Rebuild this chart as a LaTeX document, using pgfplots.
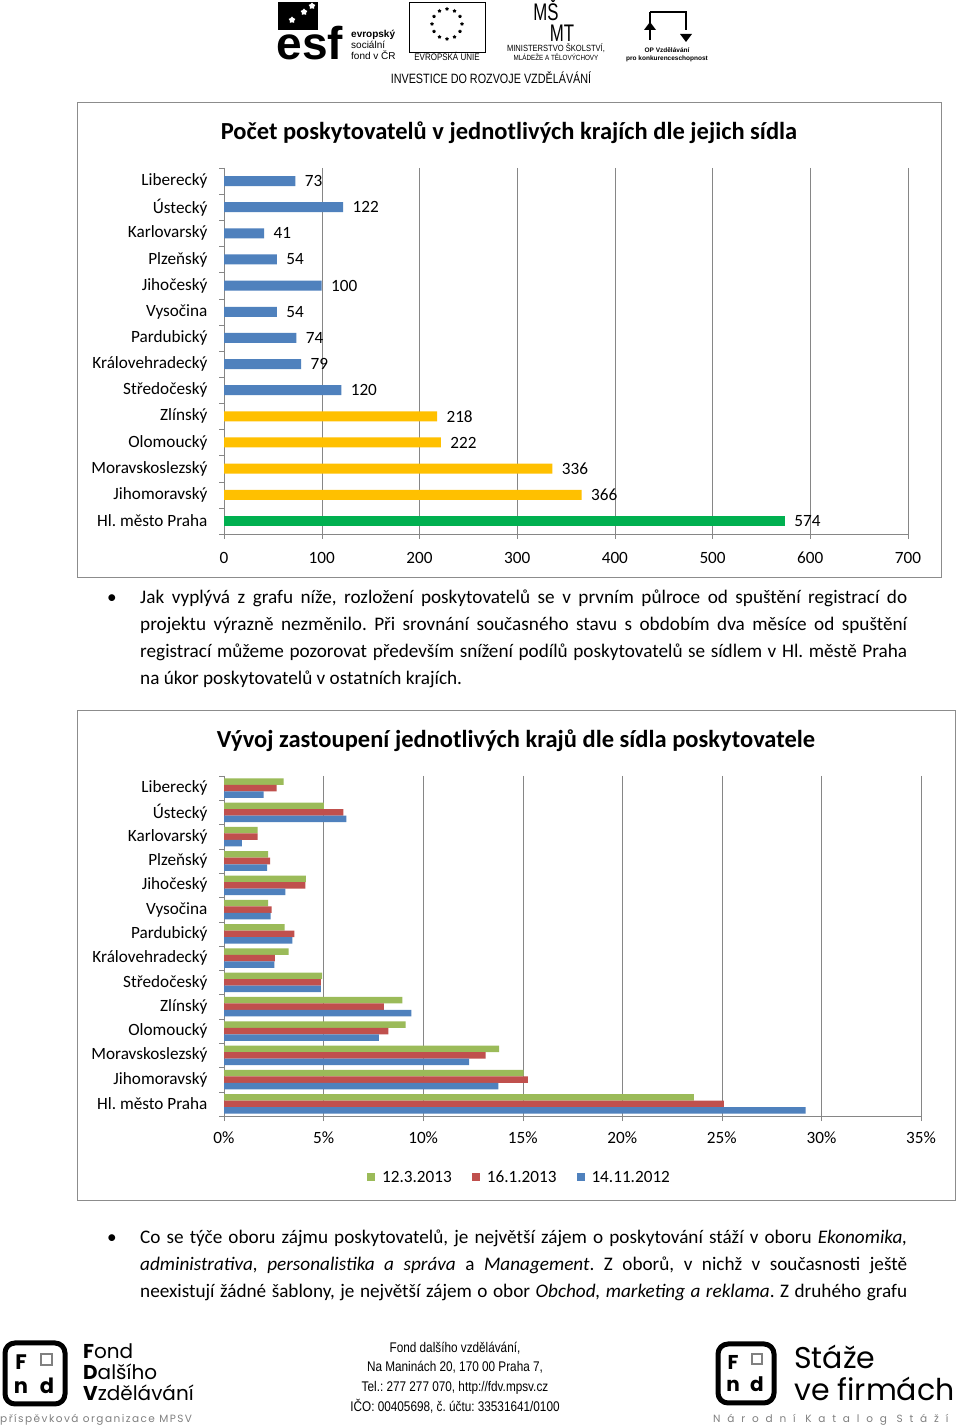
\documentclass[border=0pt]{standalone}
\usepackage{fontspec}
\setmainfont{Carlito}
\newfontfamily\arial{Liberation Sans}
\newfontfamily\geo{Poppins}
\usepackage{pgfplots}
\usetikzlibrary{shapes.geometric}
\pgfplotsset{compat=1.18}
\definecolor{xblue}{HTML}{4F81BD}
\definecolor{xgold}{HTML}{FFC000}
\definecolor{xgreen}{HTML}{00B050}
\definecolor{sgreen}{HTML}{9BBB59}
\definecolor{sred}{HTML}{C0504D}
\definecolor{gridc}{HTML}{868686}
\definecolor{framec}{HTML}{8C8C8C}
\newcommand\fs[1]{\fontsize{#1}{#1}\selectfont}
\newcommand\cond[1]{\scalebox{0.84}[1]{#1}}
\frenchspacing
\begin{document}
\begin{tikzpicture}
\path[use as bounding box] (0pt,0pt) rectangle (960pt,1427pt);
\fill[white] (0pt,0pt) rectangle (960pt,1427pt);
\begin{scope}[x=1pt,y=-1pt,shift={(0pt,1427pt)}]
% ---------- header ----------
\fill[black] (278,2) rectangle (318,30);
\foreach \p in {(292,20),(304,12),(312,6)} \node[star, star points=5, fill=white, minimum size=7pt, inner sep=0] at \p {};
\node[font=\fs{46}\bfseries\arial, inner sep=0, anchor=base] at (310,60) {esf};
\node[font=\fs{10}\bfseries\arial, anchor=base west, inner sep=0] at (351,38) {evropský};
\node[font=\fs{10}\arial, anchor=base west, inner sep=0] at (351,49) {sociální};
\node[font=\fs{10}\arial, anchor=base west, inner sep=0] at (351,60) {fond v ČR};
\draw[line width=0.8pt] (409,2) rectangle (485,52);
\foreach \a in {0,30,...,330} \path (447,24) ++(\a:15) node[star, star points=5, fill=black, minimum size=4pt, inner sep=0] {};
\node[font=\fs{9.5}\arial, anchor=base, inner sep=0] at (447,61) {\cond{EVROPSKÁ UNIE}};
\node[font=\fs{24}\arial, anchor=base, inner sep=0] at (546,21) {\scalebox{0.7}[1]{MŠ}};
\node[font=\fs{24}\arial, anchor=base, inner sep=0] at (562,42) {\scalebox{0.7}[1]{MT}};
\node[font=\fs{9}\arial, anchor=base, inner sep=0] at (556,52) {\cond{MINISTERSTVO ŠKOLSTVÍ,}};
\node[font=\fs{7.5}\arial, anchor=base, inner sep=0] at (556,61) {\cond{MLÁDEŽE A TĚLOVÝCHOVY}};
\draw[line width=1.5pt] (650,12) -- (686,12) -- (686,30);
\draw[line width=1.5pt] (650,12) -- (650,40);
\fill (680,34) -- (692,34) -- (686,42) -- cycle;
\fill (644,30) -- (656,30) -- (650,22) -- cycle;
\node[font=\fs{6.5}\bfseries\arial, anchor=base, inner sep=0] at (667,53) {OP Vzdělávání};
\node[font=\fs{6.5}\bfseries\arial, anchor=base, inner sep=0] at (667,61) {pro konkurenceschopnost};
\node[font=\fs{13.5}\arial, anchor=base, inner sep=0] at (491,84) {\scalebox{0.8}[1]{INVESTICE DO ROZVOJE VZDĚLÁVÁNÍ}};
% ---------- frames and titles ----------
\draw[framec, line width=1pt] (77,103) rectangle (941,578);
\draw[framec, line width=1pt] (77,711) rectangle (955,1201);
\node[font=\fs{24.5}\bfseries] at (509,133) {Počet poskytovatelů v jednotlivých krajích dle jejich sídla};
\node[font=\fs{24.5}\bfseries] at (516,741) {Vývoj zastoupení jednotlivých krajů dle sídla poskytovatele};
% ---------- paragraph 1 ----------
\begin{scope}[every node/.style={anchor=base west, inner sep=0, font=\fs{19.2}}]
\node at (107,604) {•};
\node at (140,604) {\makebox[767pt][s]{Jak vyplývá z~grafu níže, rozložení poskytovatelů se v~prvním půlroce od spuštění registrací do}};
\node at (140,631) {\makebox[767pt][s]{projektu výrazně nezměnilo. Při srovnání současného stavu s obdobím dva měsíce od spuštění}};
\node at (140,658) {\makebox[767pt][s]{registrací můžeme pozorovat především snížení podílů poskytovatelů se sídlem v Hl. městě Praha}};
\node at (140,685) {na úkor poskytovatelů v ostatních krajích.};
% ---------- paragraph 2 ----------
\node at (107,1244) {•};
\node at (140,1244) {\makebox[767pt][s]{Co se týče oboru zájmu poskytovatelů, je největší zájem o poskytování stáží v~oboru \textit{Ekonomika,}}};
\node at (140,1271) {\makebox[767pt][s]{\textit{administrativa, personalistika a správa} a \textit{Management}. Z oborů, v~nichž v~současnosti ještě}};
\node at (140,1298) {\makebox[767pt][s]{neexistují žádné šablony, je největší zájem o obor \textit{Obchod, marketing a reklama}. Z druhého grafu}};
\end{scope}
% ---------- footer ----------
\draw[line width=5pt, rounded corners=10pt] (5,1343) rectangle (65,1404);
\node[font=\fs{21}\bfseries\geo, inner sep=0] at (21,1362) {F};
\draw[line width=2.5pt, gray] (41,1354) rectangle (52,1365);
\node[font=\fs{21}\bfseries\geo, inner sep=0, anchor=base] at (21,1393) {n};
\node[font=\fs{21}\bfseries\geo, inner sep=0, anchor=base] at (47,1393) {d};
\node[font=\fs{20}\geo, anchor=base west, inner sep=0] at (83,1359) {\textbf{F}ond};
\node[font=\fs{20}\geo, anchor=base west, inner sep=0] at (83,1380) {\textbf{D}alšího};
\node[font=\fs{20}\geo, anchor=base west, inner sep=0] at (83,1401) {\textbf{V}zdělávání};
\node[font=\fs{10.5}\geo\addfontfeatures{LetterSpace=14}, text=gray, anchor=base west, inner sep=0] at (0,1422) {příspěvková organizace MPSV};
\node[font=\fs{14}\arial, anchor=base, inner sep=0] at (455,1353) {\cond{Fond dalšího vzdělávání,}};
\node[font=\fs{14}\arial, anchor=base, inner sep=0] at (455,1372) {\cond{Na Maninách 20, 170 00 Praha 7,}};
\node[font=\fs{14}\arial, anchor=base, inner sep=0] at (455,1392) {\cond{Tel.: 277 277 070, http://fdv.mpsv.cz}};
\node[font=\fs{14}\arial, anchor=base, inner sep=0] at (455,1411) {\cond{IČO: 00405698, č. účtu: 33531641/0100}};
\draw[line width=5pt, rounded corners=10pt] (718,1344) rectangle (774,1403);
\node[font=\fs{20}\bfseries\geo, inner sep=0] at (733,1362) {F};
\draw[line width=2.5pt, gray] (752,1354) rectangle (762,1364);
\node[font=\fs{20}\bfseries\geo, inner sep=0, anchor=base] at (733,1392) {n};
\node[font=\fs{20}\bfseries\geo, inner sep=0, anchor=base] at (757,1392) {d};
\node[font=\fs{30}\geo, anchor=base west, inner sep=0] at (794,1369) {Stáže};
\node[font=\fs{30}\geo, anchor=base west, inner sep=0] at (794,1401) {ve firmách};
\node[font=\fs{10.5}\geo\addfontfeatures{LetterSpace=65}, text=gray, anchor=base west, inner sep=0] at (713,1422) {Národní Katalog Stáží};
\end{scope}
% ---------- chart 1 ----------
\begin{axis}[
  at={(224pt,893pt)}, anchor=south west, scale only axis,
  width=684pt, height=366pt,
  xmin=0, xmax=700, ymin=-0.5, ymax=13.5, y dir=reverse,
  xbar, bar width=10pt, bar shift=0pt,
  axis x line*=bottom, axis y line*=left,
  axis line style={gridc, -},
  xtick={0,100,...,700}, minor xtick={0,100,...,700},
  ytick={0,...,13},
  yticklabels={Liberecký,Ústecký,Karlovarský,Plzeňský,Jihočeský,Vysočina,Pardubický,Královehradecký,Středočeský,Zlínský,Olomoucký,Moravskoslezský,Jihomoravský,Hl. město Praha},
  minor ytick={-0.5,0.5,...,13.5},
  tick align=outside, major tick length=0pt, minor tick length=5pt,
  tick style={gridc},
  xmajorgrids, grid style={gridc},
  tick label style={font=\fs{17.2}},
  yticklabel style={xshift=-13pt},
  xticklabel style={yshift=-15pt, text height=11pt, text depth=0pt},
  /pgf/number format/assume math mode=true,
  nodes near coords, nodes near coords style={font=\fs{17.2}, anchor=west, xshift=6pt},
  clip=false,
]
\addplot[fill=xblue, draw=none] coordinates {(73,0) (122,1) (41,2) (54,3) (100,4) (54,5) (74,6) (79,7) (120,8)};
\addplot[fill=xgold, draw=none] coordinates {(218,9) (222,10) (336,11) (366,12)};
\addplot[fill=xgreen, draw=none] coordinates {(574,13)};
\end{axis}
% ---------- chart 2 ----------
\begin{axis}[
  at={(224pt,311pt)}, anchor=south west, scale only axis,
  width=697pt, height=340pt,
  xmin=0, xmax=35, ymin=-0.5, ymax=13.5, y dir=reverse,
  xbar, bar width=6.5pt,
  axis x line*=bottom, axis y line*=left,
  axis line style={gridc, -},
  xtick={0,5,...,35}, minor xtick={0,5,...,35},
  xticklabel={\pgfmathprintnumber{\tick}\%},
  ytick={0,...,13},
  yticklabels={Liberecký,Ústecký,Karlovarský,Plzeňský,Jihočeský,Vysočina,Pardubický,Královehradecký,Středočeský,Zlínský,Olomoucký,Moravskoslezský,Jihomoravský,Hl. město Praha},
  minor ytick={-0.5,0.5,...,13.5},
  tick align=outside, major tick length=0pt, minor tick length=5pt,
  tick style={gridc},
  xmajorgrids, grid style={gridc},
  tick label style={font=\fs{17.2}},
  yticklabel style={xshift=-13pt},
  xticklabel style={yshift=-13pt, text height=11pt, text depth=0pt},
  /pgf/number format/assume math mode=true,
  legend columns=3,
  legend style={at={(0.424,-0.18)}, anchor=center, draw=none, font=\fs{17.2},
    nodes={text height=11pt, text depth=0pt},
    /tikz/every even column/.append style={column sep=18pt}},
  legend image code/.code={\fill[#1] (0pt,-4pt) rectangle (8pt,4pt); \path (13pt,0pt);},
  clip=false,
]
\addplot[fill=sgreen, draw=none, bar shift=6.5pt] coordinates {(3.00,0) (5.01,1) (1.69,2) (2.22,3) (4.11,4) (2.22,5) (3.04,6) (3.25,7) (4.93,8) (8.96,9) (9.12,10) (13.81,11) (15.04,12) (23.59,13)};
\addplot[fill=sred, draw=none, bar shift=0pt] coordinates {(2.64,0) (6.00,1) (1.69,2) (2.32,3) (4.08,4) (2.39,5) (3.53,6) (2.56,7) (4.87,8) (8.03,9) (8.26,10) (13.14,11) (15.26,12) (25.10,13)};
\addplot[fill=xblue, draw=none, bar shift=-6.5pt] coordinates {(1.99,0) (6.15,1) (0.90,2) (2.17,3) (3.08,4) (2.34,5) (3.43,6) (2.53,7) (4.87,8) (9.41,9) (7.78,10) (12.31,11) (13.78,12) (29.20,13)};
\legend{12.3.2013,16.1.2013,14.11.2012}
\end{axis}
\end{tikzpicture}
\end{document}
